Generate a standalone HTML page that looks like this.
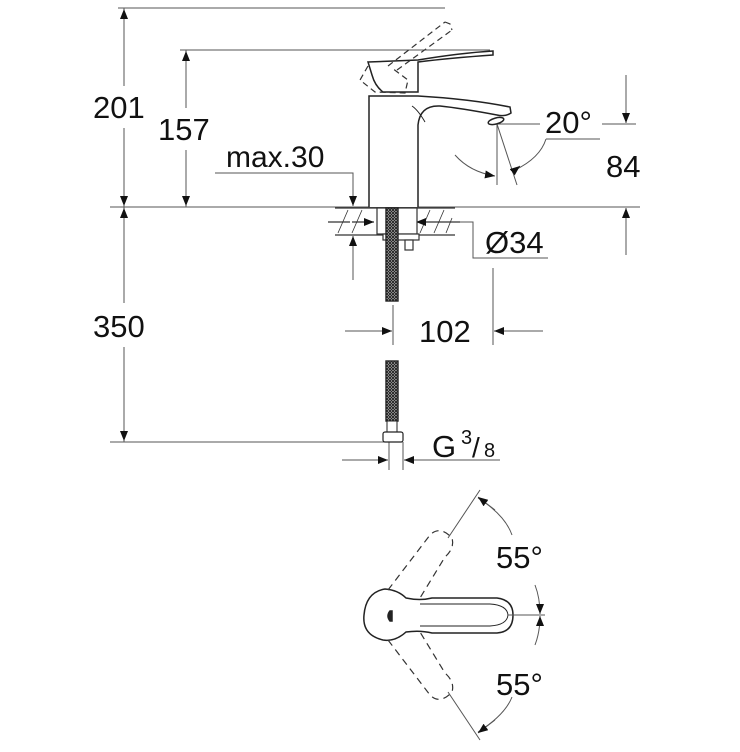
<!DOCTYPE html>
<html><head><meta charset="utf-8"><style>
html,body{margin:0;padding:0;background:#fff;}
svg{display:block;}
text{font-family:"Liberation Sans",sans-serif;fill:#111;}
</style></head><body>
<svg width="740" height="752" viewBox="0 0 740 752" xmlns="http://www.w3.org/2000/svg">
<defs>
<marker id="a" markerWidth="10" markerHeight="8" refX="10" refY="4" orient="auto" markerUnits="userSpaceOnUse"><path d="M0,0 L10,4 L0,8 Z" fill="#111"/></marker>
<pattern id="mesh" width="3" height="3" patternUnits="userSpaceOnUse"><rect width="3" height="3" fill="#ddd"/><path d="M0,0 L3,3 M3,0 L0,3" stroke="#222" stroke-width="1"/></pattern>
</defs>
<g stroke="#555" stroke-width="1" fill="none">
<line x1="118" y1="8" x2="445" y2="8"/>
<line x1="180" y1="50" x2="490" y2="50"/>
<line x1="110" y1="207" x2="640" y2="207"/>
<line x1="110" y1="442" x2="392" y2="442"/>
<line x1="124" y1="8" x2="124" y2="86"/>
<line x1="124" y1="128" x2="124" y2="207"/>
<line x1="124" y1="30" x2="124" y2="9" marker-end="url(#a)"/>
<line x1="124" y1="180" x2="124" y2="206" marker-end="url(#a)"/>
<line x1="124" y1="207" x2="124" y2="303"/>
<line x1="124" y1="347" x2="124" y2="442"/>
<line x1="124" y1="230" x2="124" y2="208" marker-end="url(#a)"/>
<line x1="124" y1="420" x2="124" y2="441" marker-end="url(#a)"/>
<line x1="186" y1="50" x2="186" y2="108"/>
<line x1="186" y1="150" x2="186" y2="207"/>
<line x1="186" y1="72" x2="186" y2="51" marker-end="url(#a)"/>
<line x1="186" y1="180" x2="186" y2="206" marker-end="url(#a)"/>
<polyline points="215,173 353,173 353,206"/>
<line x1="353" y1="185" x2="353" y2="206" marker-end="url(#a)"/>
<line x1="353" y1="280" x2="353" y2="236" marker-end="url(#a)"/>
<line x1="626" y1="75" x2="626" y2="123" marker-end="url(#a)"/>
<line x1="602" y1="124" x2="636" y2="124"/>
<line x1="626" y1="255" x2="626" y2="208" marker-end="url(#a)"/>
<line x1="497" y1="124" x2="540" y2="124"/>
<line x1="497" y1="124" x2="497" y2="185"/>
<line x1="497" y1="124" x2="517" y2="185"/>
<path d="M546,139 L600,139 M546,139 Q540,158 515,170" />
<path d="M515,170 L520,166" marker-end="url(#a)"/>
<path d="M455,155 Q470,172 495,176" marker-end="url(#a)"/>
<polyline points="420,222 473,222 473,258 548,258"/>
<line x1="393" y1="305" x2="393" y2="345"/>
<line x1="493" y1="268" x2="493" y2="345"/>
<line x1="345" y1="331" x2="392" y2="331" marker-end="url(#a)"/>
<line x1="543" y1="331" x2="494" y2="331" marker-end="url(#a)"/>
<line x1="389" y1="442" x2="389" y2="470"/>
<line x1="403" y1="442" x2="403" y2="470"/>
<line x1="342" y1="460" x2="388" y2="460" marker-end="url(#a)"/>
<line x1="500" y1="460" x2="404" y2="460" marker-end="url(#a)"/>
</g>
<g stroke="#333" stroke-width="1.2" fill="none">
<line x1="335" y1="208" x2="455" y2="208"/>
<line x1="335" y1="235" x2="455" y2="235"/>
<line x1="328" y1="222" x2="350" y2="222"/>
<line x1="440" y1="222" x2="460" y2="222"/>
<path d="M338,233 L348,210 M352,233 L362,210 M420,233 L430,210 M434,233 L444,210 M446,233 L452,218" stroke-width="0.8"/>
<line x1="352" y1="222" x2="374" y2="222" marker-end="url(#a)"/>
<line x1="440" y1="222" x2="416" y2="222" marker-end="url(#a)"/>
<rect x="377" y="208" width="40" height="26" fill="#fff"/>
<rect x="383" y="234" width="36" height="6" fill="#fff"/>
<rect x="405" y="240" width="8" height="10" fill="#fff"/>
</g>
<rect x="386" y="208" width="12" height="93" fill="url(#mesh)" stroke="#222" stroke-width="1.4"/>
<rect x="386" y="361" width="12" height="60" fill="url(#mesh)" stroke="#222" stroke-width="1.4"/>
<rect x="387" y="421" width="10" height="12" fill="#fff" stroke="#222"/>
<rect x="383" y="432" width="20" height="10" rx="2" fill="#fff" stroke="#222" stroke-width="1.2"/>
<g stroke="#222" stroke-width="1.5" fill="#fff">
<path d="M369,207 L369,96 L418,96 Q470,99 510,107 L511,113 Q505,117 497,115 Q460,108 440,106 Q420,105 418,125 L418,207"/>
<path d="M412,106 Q418,110 425,122" fill="none" stroke-width="1"/>
<path d="M368,62 L418,60 Q460,53 493,51 L493,55 Q450,58 418,62 L418,92 L383,92 Q375,86 372,75 Z"/>
<ellipse cx="496" cy="121" rx="8" ry="3" transform="rotate(-15 496 121)"/>
</g>
<g stroke="#333" stroke-width="1.2" fill="none" stroke-dasharray="6,4">
<path d="M368,66 L360,80 L375,92 L405,93 L408,80 L392,68"/>
<path d="M388,66 L445,22 M397,70 L452,30 M445,22 L450,24 L452,30"/>
</g>
<g stroke="#222" stroke-width="1.5" fill="#fff">
<path d="M406,598 Q420,601 432,598 L497,598 Q513,600 513,615 Q513,632 497,633 L432,633 Q420,630 406,632 Q395,642 383,640 Q362,635 364,615 Q366,592 385,589 Q398,590 406,598 Z"/>
<path d="M420,604 L490,604 Q507,605 508,615 Q507,625 490,626 L420,626" fill="none" stroke-width="1"/>
<path d="M390,611 Q386,616 390,621 L392,621 L392,611 Z" fill="#222"/>
</g>
<g stroke="#333" stroke-width="1.2" fill="none" stroke-dasharray="7,5">
<path d="M388,590 L430,535 Q440,525 452,538 Q455,548 445,557 L420,598"/>
<path d="M388,640 L430,695 Q440,705 452,692 Q455,682 445,673 L420,632"/>
</g>
<g stroke="#555" stroke-width="1" fill="none">
<line x1="508" y1="615" x2="545" y2="615"/>
<line x1="448" y1="538" x2="480" y2="490"/>
<line x1="448" y1="692" x2="480" y2="740"/>
<path d="M478,498 Q505,515 512,535"/>
<path d="M478,732 Q505,715 512,697"/>
<path d="M495,510 L478,497" marker-end="url(#a)"/>
<path d="M495,720 L478,733" marker-end="url(#a)"/>
<path d="M535,585 Q540,598 540,614" marker-end="url(#a)"/>
<path d="M535,645 Q540,632 540,616" marker-end="url(#a)"/>
</g>
<g font-size="31">
<text x="93" y="118">201</text>
<text x="158" y="140">157</text>
<text x="93" y="337">350</text>
<text x="419" y="342">102</text>
<text x="432" y="457">G</text>
<text x="545" y="133">20°</text>
<text x="606" y="177">84</text>
<text x="485" y="253">Ø34</text>
<text x="496" y="568">55°</text>
<text x="496" y="695">55°</text>
</g>
<text x="226" y="167" font-size="30">max.30</text>
<text x="461" y="444" font-size="20">3</text>
<text x="472" y="457" font-size="28">/</text>
<text x="484" y="457" font-size="20">8</text>
</svg>
</body></html>
